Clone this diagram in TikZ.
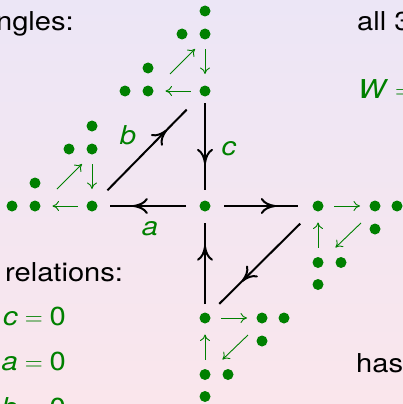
\documentclass[tikz,border=0pt]{standalone}
\usepackage{fontspec}
\setmainfont{TeX Gyre Heros}[FakeStretch=1.12]
\usetikzlibrary{arrows.meta,decorations.markings,calc}
\definecolor{dotgreen}{RGB}{0,128,0}
\definecolor{bgtop}{RGB}{236,230,246}
\definecolor{bgbot}{RGB}{250,230,236}
\tikzset{
  dot/.style={circle,fill=dotgreen,inner sep=0pt,minimum size=11pt},
  smallarrow/.style={draw=dotgreen,line width=0.9pt,-{Computer Modern Rightarrow[length=6.5pt,width=10pt]}},
  bigarrow/.style={line width=2pt,postaction={decorate},
    decoration={markings,mark=at position #1 with {\arrow{Computer Modern Rightarrow[length=15pt,width=16pt,line width=2pt]}}}},
  txt/.style={font=\fontsize{26}{30}\selectfont,inner sep=0pt},
  gtxt/.style={txt,text=dotgreen},
  clusterTL/.pic={
    \node[dot] (-a) at (0,0) {};
    \node[dot] (-b1) at (-80,0) {};
    \node[dot] (-b2) at (-57,0) {};
    \node[dot] (-b3) at (-57,-23) {};
    \node[dot] (-c1) at (-23,-57) {};
    \node[dot] (-c2) at (0,-57) {};
    \node[dot] (-c3) at (0,-80) {};
    \coordinate (-h1) at (-14.5,0);
    \coordinate (-h2) at (-39.5,0);
    \coordinate (-d1) at (-35,-17);
    \coordinate (-d2) at (-10,-42);
    \coordinate (-v1) at (0,-42);
    \coordinate (-v2) at (0,-17);
    \draw[smallarrow] (-h1) -- (-h2);
    \draw[smallarrow] (-d1) -- (-d2);
    \draw[smallarrow] (-v1) -- (-v2);
  },
  clusterBR/.pic={
    \node[dot] (-a) at (0,0) {};
    \node[dot] (-b1) at (57,0) {};
    \node[dot] (-b2) at (79,0) {};
    \node[dot] (-b3) at (57,23) {};
    \node[dot] (-c1) at (0,56.5) {};
    \node[dot] (-c2) at (23,56.5) {};
    \node[dot] (-c3) at (0,78.5) {};
    \coordinate (-h1) at (16,0);
    \coordinate (-h2) at (42,0);
    \coordinate (-d1) at (43,17);
    \coordinate (-d2) at (17.5,41.5);
    \coordinate (-v1) at (0,41.5);
    \coordinate (-v2) at (0,16.5);
    \draw[smallarrow] (-h1) -- (-h2);
    \draw[smallarrow] (-d1) -- (-d2);
    \draw[smallarrow] (-v1) -- (-v2);
  }
}
\begin{document}
\begin{tikzpicture}[x=1pt,y=-1pt]
\fill[top color=bgtop,bottom color=bgbot] (0,0) rectangle (403,404);
\useasboundingbox (0,0) rectangle (403,404);

\pic (top) at (205,91) {clusterTL};
\pic (left) at (92,206) {clusterTL};
\pic (right) at (318,206) {clusterBR};
\pic (bot) at (205,318) {clusterBR};
\node[dot] (O) at (205,206) {};

% black arrows
\draw[bigarrow=0.70] ($(top-a)!12pt!(O)$) -- ($(O)!16pt!(top-a)$);
\draw[bigarrow=0.70] ($(O)!19pt!(left-a)$) -- ($(left-a)!18pt!(O)$);
\draw[bigarrow=0.75] ($(left-a)!22pt!(top-a)$) -- ($(top-a)!26pt!(left-a)$);
\draw[bigarrow=0.70] ($(O)!19pt!(right-a)$) -- ($(right-a)!20pt!(O)$);
\draw[bigarrow=0.72] ($(right-a)!25pt!(bot-a)$) -- ($(bot-a)!20pt!(right-a)$);
\draw[bigarrow=0.72] ($(bot-a)!14pt!(O)$) -- ($(O)!17pt!(bot-a)$);

% arrow labels
\node[gtxt,anchor=base] (la) at (150,235) {\textit{a}};
\node[gtxt,anchor=base] (lb) at (128,144) {\textit{b}};
\node[gtxt,anchor=base] (lc) at (229,155) {\textit{c}};

% slide text
\node[txt,anchor=base east] (t1) at (74,31) {ngles:};
\node[txt,anchor=base west] (t2) at (357,31) {all 3};
\node[gtxt,anchor=base west] (t3) at (358,98) {\textit{W}${}={}$};
\node[txt,anchor=base west] (t4) at (5,281) {relations:};
\node[gtxt,anchor=base east] (r1) at (66,325) {\textit{c}${}={}$0};
\node[gtxt,anchor=base east] (r2) at (66,370) {\textit{a}${}={}$0};
\node[gtxt,anchor=base east] (r3) at (66,416) {\textit{b}${}={}$0};
\node[txt,anchor=base west] (t5) at (356,372) {has};
\end{tikzpicture}
\end{document}
